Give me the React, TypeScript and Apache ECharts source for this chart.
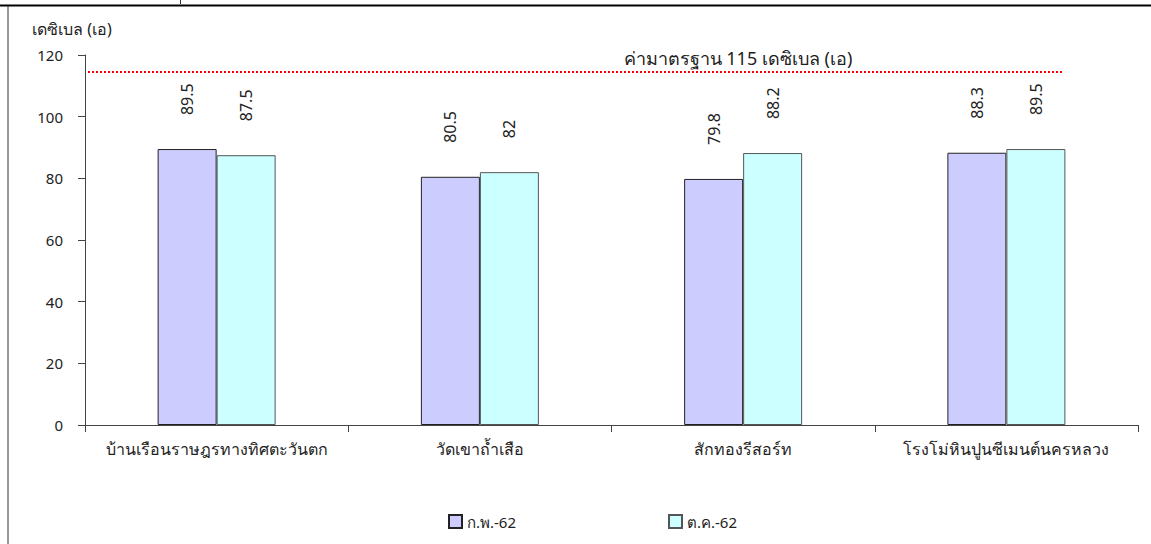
import React, { useEffect, useRef } from "react";
import * as echarts from "echarts";

const categories = [
  "บ้านเรือนราษฎรทางทิศตะวันตก",
  "วัดเขาถ้ำเสือ",
  "สักทองรีสอร์ท",
  "โรงโม่หินปูนซีเมนต์นครหลวง",
];
const seriesNames = ["ก.พ.-62", "ต.ค.-62"];
const febValues = [89.5, 80.5, 79.8, 88.3];
const octValues = [87.5, 82, 88.2, 89.5];
const standardLineValue = 114.5;
const standardLabel = "ค่ามาตรฐาน 115 เดซิเบล (เอ)";
const yAxisName = "เดซิเบล (เอ)";

const FONT = "Tahoma, 'Noto Sans', 'DejaVu Sans', sans-serif";

export default function App() {
  const ref = useRef<HTMLDivElement>(null);
  useEffect(() => {
    document.body.style.margin = "0";
    if (!ref.current) return;
    const chart = echarts.init(ref.current, undefined, { renderer: "svg" });
    const labelCommon = {
      show: true,
      position: "top" as const,
      rotate: 90,
      align: "left" as const,
      verticalAlign: "middle" as const,
      distance: 34,
      fontSize: 16,
      color: "#222",
      fontFamily: FONT,
    };
    chart.setOption({
      animation: false,
      textStyle: { fontFamily: FONT },
      grid: { left: 85, right: 13, top: 55, bottom: 119, containLabel: false },
      legend: [
        {
          data: [seriesNames[0]],
          left: 443,
          top: 509,
          itemWidth: 13,
          itemHeight: 13,
          icon: "rect",
          textStyle: { fontSize: 15, color: "#222", fontFamily: FONT },
        },
        {
          data: [seriesNames[1]],
          left: 663,
          top: 509,
          itemWidth: 13,
          itemHeight: 13,
          icon: "rect",
          textStyle: { fontSize: 15, color: "#222", fontFamily: FONT },
        },
      ],
      xAxis: {
        type: "category",
        data: categories,
        axisLine: { lineStyle: { color: "#444", width: 1 } },
        axisTick: { show: true, length: 7, lineStyle: { color: "#444" } },
        axisLabel: { fontSize: 16, color: "#222", margin: 16, fontFamily: FONT, interval: 0 },
      },
      yAxis: {
        type: "value",
        min: 0,
        max: 120,
        interval: 20,
        axisLine: { show: true, lineStyle: { color: "#444", width: 1 } },
        axisTick: { show: true, length: 7, lineStyle: { color: "#444" } },
        splitLine: { show: false },
        axisLabel: { fontSize: 15, color: "#222", margin: 22, fontFamily: FONT },
      },
      series: [
        {
          name: seriesNames[0],
          type: "bar",
          data: febValues,
          barWidth: 59,
          barGap: "0%",
          itemStyle: { color: "#CCCCFF", borderColor: "#222", borderWidth: 1 },
          label: labelCommon,
        },
        {
          name: seriesNames[1],
          type: "bar",
          data: octValues,
          barWidth: 59,
          barGap: "0%",
          itemStyle: { color: "#CCFFFF", borderColor: "#555", borderWidth: 1 },
          label: labelCommon,
        },
      ],
    });
    const yLine = chart.convertToPixel({ yAxisIndex: 0 }, standardLineValue) as number;
    chart.setOption({
      graphic: [
        {
          type: "line",
          shape: { x1: 0, y1: 5.5, x2: 1151, y2: 5.5 },
          style: { stroke: "#000", lineWidth: 2 },
        },
        {
          type: "line",
          shape: { x1: 8, y1: 6, x2: 8, y2: 544 },
          style: { stroke: "#333", lineWidth: 1 },
        },
        {
          type: "line",
          shape: { x1: 180.5, y1: 0, x2: 180.5, y2: 4 },
          style: { stroke: "#333", lineWidth: 1 },
        },
        {
          type: "line",
          shape: { x1: 88, y1: yLine, x2: 1063, y2: yLine },
          style: { stroke: "#FF0000", lineWidth: 2, lineDash: [2, 2] },
        },
        {
          type: "text",
          left: 32,
          top: 21,
          style: { text: yAxisName, fontSize: 16, fill: "#222", fontFamily: FONT },
        },
        {
          type: "text",
          x: 738,
          y: yLine - 14,
          style: {
            text: standardLabel,
            fontSize: 18,
            fill: "#222",
            fontFamily: FONT,
            align: "center",
            verticalAlign: "middle",
          },
        },
      ],
    });
    return () => chart.dispose();
  }, []);
  return <div ref={ref} style={{ width: 1151, height: 544 }} />;
}
